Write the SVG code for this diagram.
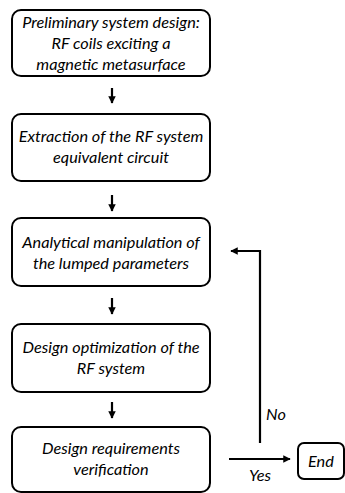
<svg xmlns="http://www.w3.org/2000/svg" width="345" height="493" viewBox="0 0 345 493">
  <style>
    .box { fill: #fff; stroke: #000; stroke-width: 2; }
    .lbl { font-family: Lato, "Open Sans", "Liberation Sans", sans-serif; font-style: italic; font-size: 16.3px; fill: #000; text-anchor: middle; }
    .edge { fill: none; stroke: #000; stroke-width: 2.2; }
  </style>
  <defs>
    <marker id="head" viewBox="0 0 10 10" refX="9" refY="5" markerWidth="3.4" markerHeight="3.4" orient="auto" markerUnits="strokeWidth">
      <path d="M0,0 L10,5 L0,10 Z" fill="#000"/>
    </marker>
  </defs>

  <g id="n1">
    <rect class="box" x="12" y="10" width="198" height="66" rx="9"/>
    <text class="lbl" x="111" y="28">Preliminary system design:</text>
    <text class="lbl" x="111" y="49">RF coils exciting a</text>
    <text class="lbl" x="111" y="70">magnetic metasurface</text>
  </g>
  <g id="n2">
    <rect class="box" x="12" y="114" width="198" height="67" rx="9"/>
    <text class="lbl" x="111" y="142">Extraction of the RF system</text>
    <text class="lbl" x="111" y="163">equivalent circuit</text>
  </g>
  <g id="n3">
    <rect class="box" x="12" y="218" width="198" height="68" rx="9"/>
    <text class="lbl" x="111" y="248">Analytical manipulation of</text>
    <text class="lbl" x="111" y="269">the lumped parameters</text>
  </g>
  <g id="n4">
    <rect class="box" x="12" y="324" width="198" height="68" rx="9"/>
    <text class="lbl" x="111" y="353">Design optimization of the</text>
    <text class="lbl" x="111" y="374">RF system</text>
  </g>
  <g id="n5">
    <rect class="box" x="12" y="427" width="198" height="65" rx="9"/>
    <text class="lbl" x="111" y="454">Design requirements</text>
    <text class="lbl" x="111" y="475">verification</text>
  </g>
  <g id="end">
    <rect class="box" x="298" y="443" width="46" height="36" rx="6"/>
    <text class="lbl" x="321" y="467">End</text>
  </g>

  <g id="connectors">
    <line class="edge" x1="112" y1="88" x2="112" y2="103" marker-end="url(#head)"/>
    <line class="edge" x1="112" y1="195" x2="112" y2="211" marker-end="url(#head)"/>
    <line class="edge" x1="112" y1="298" x2="112" y2="314" marker-end="url(#head)"/>
    <line class="edge" x1="112" y1="402" x2="112" y2="418" marker-end="url(#head)"/>
    <polyline class="edge" points="260,443 260,251 231,251" marker-end="url(#head)"/>
    <line class="edge" x1="229" y1="459" x2="290" y2="459" marker-end="url(#head)"/>
    <text class="lbl" x="276" y="420">No</text>
    <text class="lbl" x="260" y="481">Yes</text>
  </g>
</svg>
